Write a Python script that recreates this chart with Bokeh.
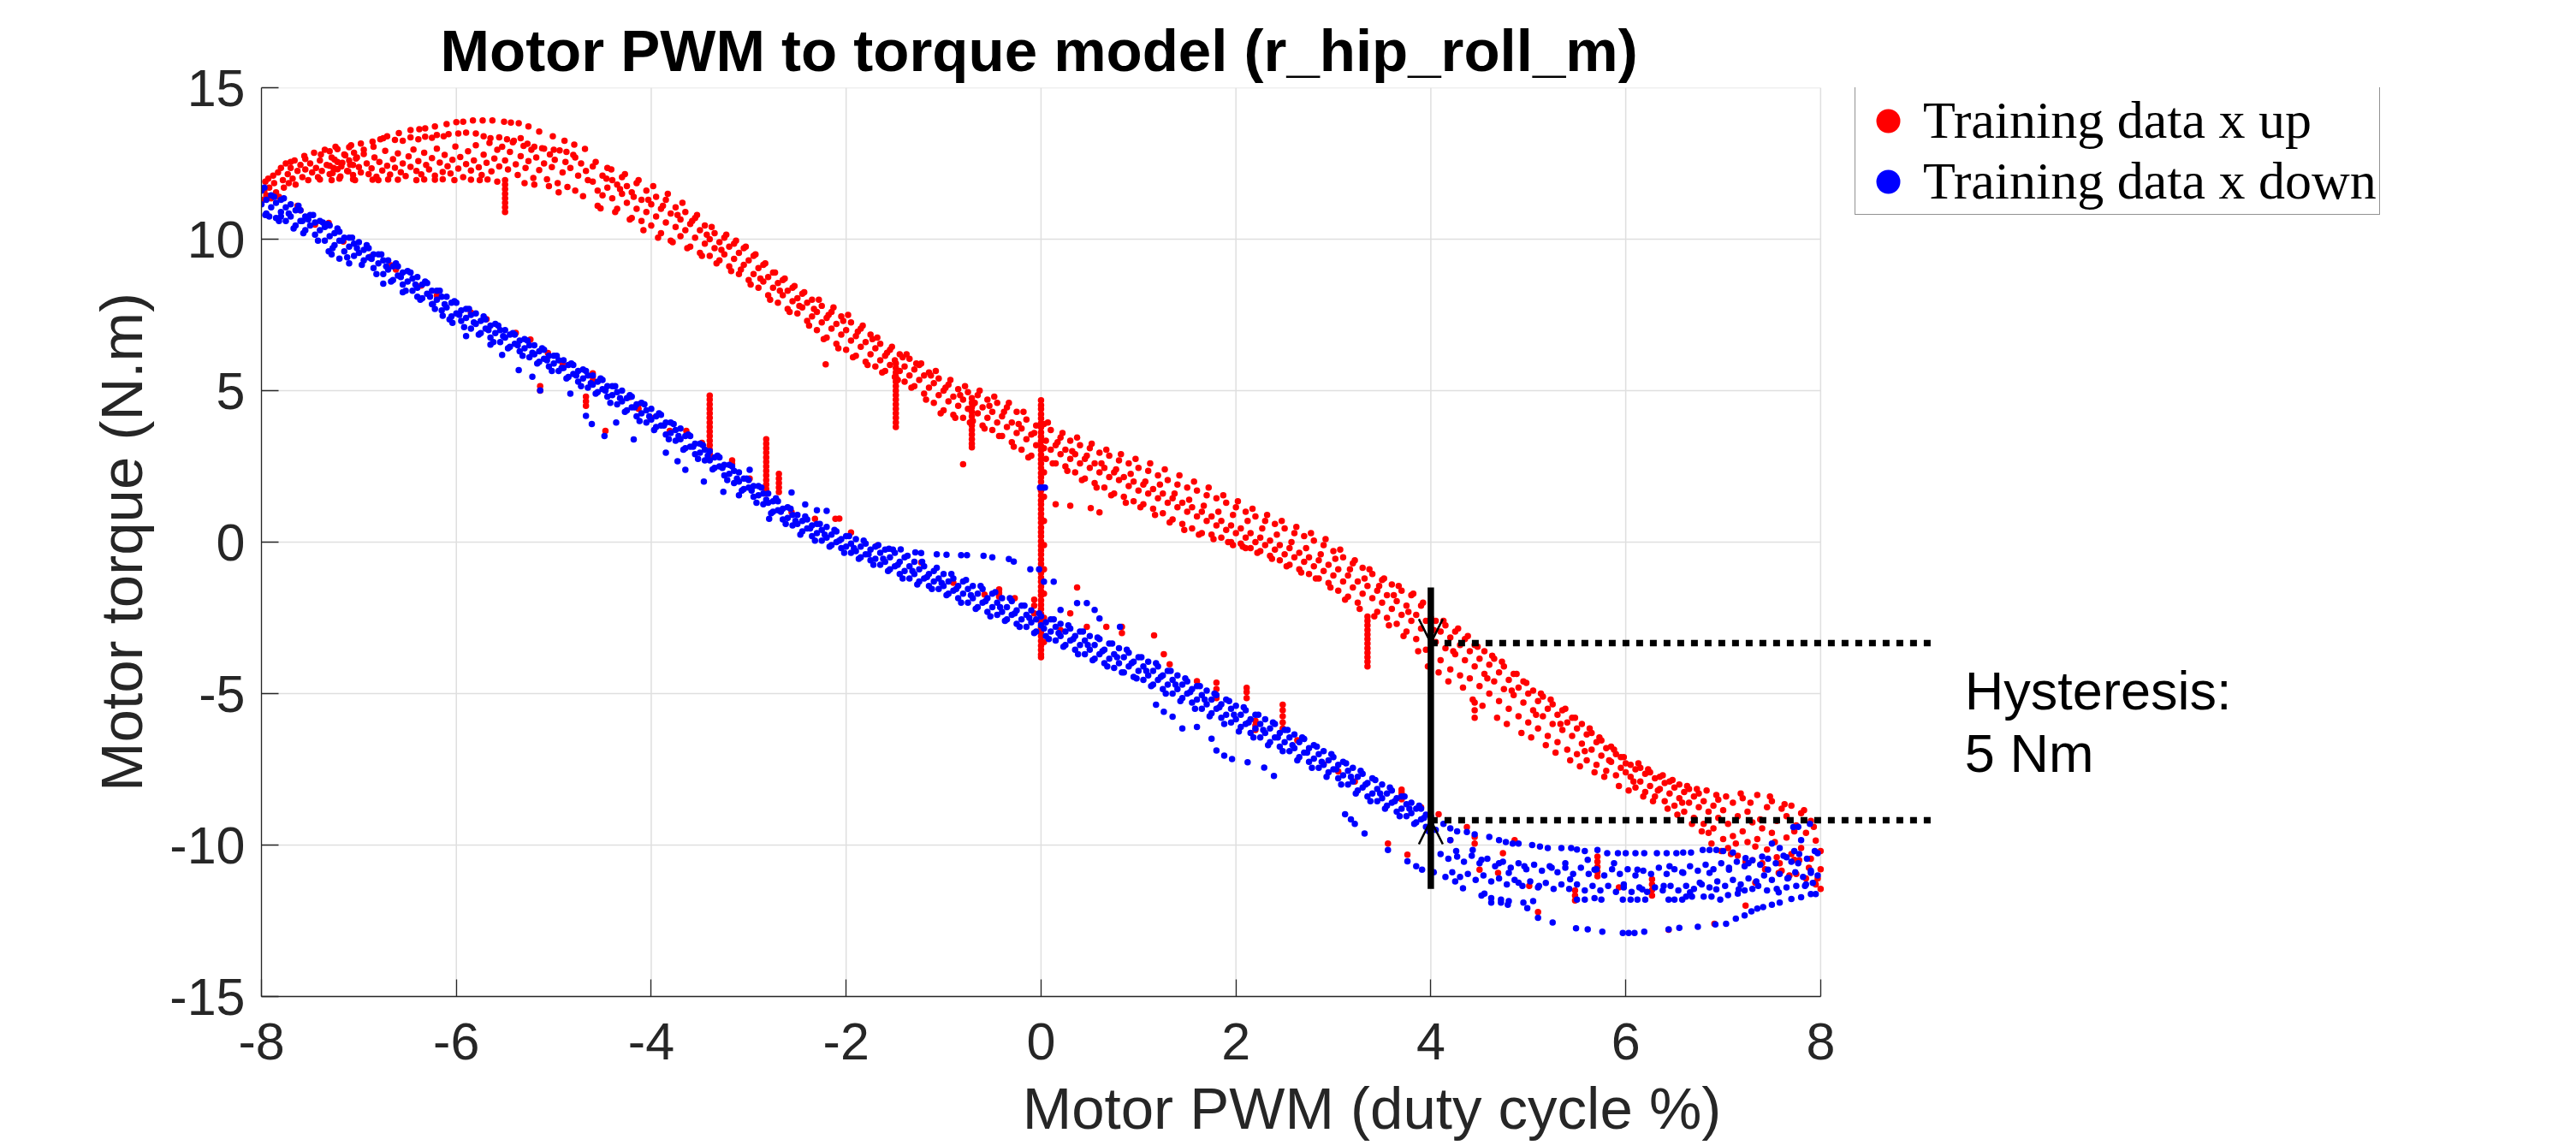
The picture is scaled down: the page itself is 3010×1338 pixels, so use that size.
from bokeh.plotting import figure
from bokeh.models import (Range1d, FixedTicker, Legend, LegendItem, Label, Arrow, OpenHead,
                          CustomJSTickFormatter)
from bokeh.embed import file_html
from bokeh.resources import INLINE

TITLE = "Motor PWM to torque model (r_hip_roll_m)"
X_LABEL = "Motor PWM (duty cycle %)"
Y_LABEL = "Motor torque (N.m)"
x_ticks = [-8, -6, -4, -2, 0, 2, 4, 6, 8]
y_ticks = [-15, -10, -5, 0, 5, 10, 15]
legend_labels = ["Training data x up", "Training data x down"]
annotation_lines = ["Hysteresis:", "5 Nm"]

# hysteresis marker values (data units)
hyst_x = 4.0
hyst_upper = -3.33
hyst_lower = -9.18
bar_top = -1.5
bar_bottom = -11.45
dotted_end = 9.16
note_x = 9.48
note_y = [-4.89, -6.95]

# ---------------- "x up" training data (red) ----------------
up_start = [(-7.98,11.3),(-7.97,11.6),(-7.96,11.9),(-7.95,11.45),(-7.93,12.0),(-7.92,11.7),(-7.9,11.35),(-7.88,12.1),
(-7.87,11.85),(-7.85,11.55),(-7.83,12.2),(-7.82,11.4),(-7.8,12.35),(-7.78,11.95),(-7.77,11.7),(-7.75,12.5),(-7.73,12.15),
(-7.72,11.85),(-7.7,12.35),(-7.68,12.0),(-7.66,12.6),(-7.65,11.8),(-7.63,12.25),(-7.6,12.45),(-7.58,12.05),(-7.56,12.75),
(-7.55,12.3),(-7.52,11.95),(-7.5,12.5),(-7.48,12.2),(-7.46,12.85),(-7.44,12.35),(-7.42,12.05),(-7.4,12.6),(-7.38,12.25),
(-7.35,12.95),(-7.33,12.45),(-7.3,12.15),(-7.28,12.7),(-7.26,12.35),(-7.24,13.05),(-7.22,12.55),(-7.2,12.0),(-7.18,12.4),
(-7.15,12.8),(-7.12,12.25),(-7.1,12.6),(-7.08,13.1),(-7.06,12.45),(-7.04,11.95),(-7.02,12.7)]

up_top_arc = [(-7.7,12.55),(-7.55,12.65),(-7.39,12.8),(-7.3,12.9),(-7.22,12.97),(-7.1,13.04),(-6.98,13.16),(-6.86,13.22),
(-6.78,13.3),(-6.71,13.4),(-6.59,13.5),(-6.47,13.6),(-6.38,13.63),(-6.32,13.66),(-6.22,13.72),(-6.1,13.8),(-6.0,13.86),
(-5.93,13.88),(-5.83,13.92),(-5.73,13.92),(-5.63,13.92),(-5.51,13.88),(-5.44,13.85),(-5.36,13.83),(-5.26,13.72),
(-5.15,13.55),(-5.01,13.4),(-4.89,13.25),(-4.79,13.12),(-4.68,12.98)]

up_arc2 = [(-7.05,12.85),(-6.95,12.95),(-6.85,13.05),(-6.75,13.33),(-6.63,13.28),(-6.55,13.25),(-6.47,13.36),(-6.39,13.3),
(-6.32,13.38),(-6.25,13.35),(-6.2,13.44),(-6.13,13.4),(-6.08,13.47),(-5.98,13.49),(-5.9,13.52),(-5.8,13.49),(-5.72,13.4),
(-5.65,13.33),(-5.56,13.36),(-5.48,13.3),(-5.41,13.25),(-5.34,13.33),(-5.27,13.15),(-5.2,13.05),(-5.1,12.99),(-5.0,12.95),
(-4.87,12.88),(-4.78,12.7)]

up_mass = [(-7.3,12.42),(-7.27,12.18),(-7.25,12.63),(-7.22,12.31),(-7.19,12.07),(-7.17,12.52),(-7.14,12.77),(-7.11,12.24),
(-7.09,12.46),(-7.06,12.12),(-7.03,12.66),(-7.0,12.38),(-6.98,12.2),(-6.95,12.81),(-6.92,12.5),(-6.9,12.15),(-6.87,12.34),
(-6.84,12.7),(-6.82,12.06),(-6.79,12.55),(-6.76,12.27),(-6.73,12.92),(-6.71,12.42),(-6.68,12.13),(-6.65,12.64),
(-6.63,12.36),(-6.6,12.83),(-6.57,12.21),(-6.55,12.5),(-6.52,12.08),(-6.49,12.73),(-6.47,12.39),(-6.44,12.96),
(-6.41,12.25),(-6.39,12.58),(-6.36,12.14),(-6.33,12.85),(-6.31,12.45),(-6.28,12.3),(-6.25,12.68),(-6.22,12.1),
(-6.2,12.99),(-6.17,12.53),(-6.14,12.22),(-6.12,12.78),(-6.09,12.41),(-6.06,12.17),(-6.04,12.62),(-6.01,13.06),
(-5.98,12.33),(-5.96,12.71),(-5.93,12.05),(-5.9,12.48),(-5.88,12.9),(-5.85,12.27),(-5.82,12.6),(-5.8,13.1),(-5.77,12.37),
(-5.74,12.12),(-5.72,12.79),(-5.69,12.52),(-5.66,13.18),(-5.64,12.24),(-5.61,12.66),(-5.58,12.95),(-5.56,12.4),
(-5.53,13.05),(-5.5,12.6),(-5.47,12.3),(-5.45,12.88),(-5.42,13.2),(-5.39,12.47),(-5.37,12.12),(-5.34,12.74),(-5.31,13.08),
(-5.29,12.35),(-5.26,12.58),(-5.23,12.95),(-5.21,12.02),(-5.18,12.7),(-5.15,12.28),(-5.12,13.0),(-5.1,12.5),(-5.07,11.98),
(-5.04,12.8),(-5.02,12.38),(-4.99,12.62),(-4.96,11.85),(-4.94,12.93),(-4.91,12.2),(-4.88,12.55),(-4.86,11.72),(-4.83,12.35),
(-4.8,12.78),(-4.78,11.6),(-4.75,12.1),(-4.72,12.5),(-4.7,11.42),(-4.67,12.25),(-4.65,11.95)]

up_lower_edge = [(-7.4,11.97),(-7.28,11.95),(-7.06,11.98),(-6.86,11.96),(-6.8,11.95),(-6.7,11.97),(-6.6,11.96),
(-6.41,11.95),(-6.33,11.97),(-6.22,11.96),(-6.14,11.98),(-6.02,11.95),(-5.85,11.96),(-5.76,11.95),(-5.68,11.97),
(-5.58,11.9),(-5.3,11.85),(-5.2,11.8),(-5.05,11.75),(-4.95,11.55)]

up_band = [(-4.6,11.9),(-4.6,12.4),(-4.55,11.6),(-4.55,11.1),(-4.5,12.1),(-4.5,11.45),(-4.45,11.7),(-4.45,12.35),
(-4.4,11.35),(-4.4,11.95),(-4.35,11.8),(-4.35,11.0),(-4.3,11.5),(-4.3,12.05),(-4.25,11.2),(-4.25,11.75),(-4.2,11.55),
(-4.2,10.7),(-4.15,11.0),(-4.15,11.85),(-4.1,11.3),(-4.1,10.6),(-4.05,10.9),(-4.05,11.6),(-4.0,11.15),(-4.0,10.45),
(-3.95,10.75),(-3.95,11.4),(-3.9,11.0),(-3.9,10.2),(-3.85,10.55),(-3.85,11.3),(-3.8,10.85),(-3.8,9.95),(-3.75,10.4),
(-3.75,11.05),(-3.7,10.65),(-3.7,10.1),(-3.65,10.3),(-3.65,10.9),(-3.6,10.5),(-3.6,9.75),(-3.55,10.05),(-3.55,10.7),
(-3.5,10.3),(-3.5,9.55),(-3.45,9.85),(-3.45,10.45),(-3.4,10.0),(-3.4,9.45),(-3.35,9.7),(-3.35,10.2),(-3.3,9.9),
(-3.3,9.3),(-3.25,9.5),(-3.25,10.05),(-3.2,9.75),(-3.2,9.1),(-3.15,9.35),(-3.15,9.85),(-3.1,9.55),(-3.1,8.85),
(-3.05,9.15),(-3.05,9.7),(-3.0,9.3),(-3.0,8.65),(-2.95,8.85),(-2.95,9.45),(-2.9,9.05),(-2.9,8.4),(-2.85,8.6),
(-2.85,9.15),(-2.8,8.75),(-2.8,8.15),(-2.75,8.4),(-2.75,8.9),(-2.7,8.55),(-2.7,7.9),(-2.65,8.15),(-2.65,8.65),
(-2.6,8.3),(-2.6,7.7),(-2.55,7.95),(-2.55,8.4),(-2.5,8.05),(-2.5,7.55),(-2.45,7.75),(-2.45,8.2),(-2.4,7.9),(-2.4,7.3),
(-2.35,7.45),(-2.35,8.0),(-2.3,7.6),(-2.3,7.0),(-2.25,7.25),(-2.25,7.8),(-2.2,7.4),(-2.2,6.75),(-2.15,7.05),(-2.15,7.6),
(-2.1,7.2),(-2.1,6.55),(-2.05,6.85),(-2.05,7.45),(-2.0,7.0),(-2.0,6.35),(-1.95,6.65),(-1.95,7.25),(-1.9,6.8),(-1.9,6.15),
(-1.85,6.45),(-1.85,7.05),(-1.8,6.6),(-1.8,5.95),(-1.75,6.2),(-1.75,6.85),(-1.7,6.4),(-1.7,5.8),(-1.65,6.0),(-1.65,6.55),
(-1.6,6.15),(-1.6,5.65),(-1.55,5.85),(-1.55,6.35),(-1.5,6.0),(-1.5,5.45),(-1.45,5.65),(-1.45,6.2),(-1.4,5.8),(-1.4,5.3),
(-1.35,5.5),(-1.35,6.05),(-1.3,5.7),(-1.3,5.15),(-1.25,5.35),(-1.25,5.85),(-1.2,5.5),(-1.2,4.9),(-1.15,5.1),(-1.15,5.6),
(-1.1,5.25),(-1.1,4.6),(-1.05,4.85),(-1.05,5.4),(-1.0,5.0),(-1.0,4.35),(-0.95,4.65),(-0.95,5.2),(-0.9,4.8),(-0.9,4.2),
(-0.85,4.5),(-0.85,5.05),(-0.8,4.7),(-0.8,4.1),(-0.75,4.4),(-0.75,4.95),(-0.7,4.55),(-0.7,4.0),(-0.65,4.25),(-0.65,4.85),
(-0.6,4.45),(-0.6,3.85),(-0.55,4.1),(-0.55,4.7),(-0.5,4.3),(-0.5,3.7),(-0.45,3.95),(-0.45,4.6),(-0.4,4.15),(-0.4,3.5),
(-0.35,3.8),(-0.35,4.45),(-0.3,3.95),(-0.3,3.3),(-0.25,3.6),(-0.25,4.3),(-0.2,3.75),(-0.2,3.05),(-0.15,3.4),(-0.15,4.05),
(-0.1,3.55),(-0.1,2.85),(-0.05,3.2),(-0.05,3.85),(0.05,3.35),(0.05,2.75),(0.1,3.05),(0.1,3.7),(0.15,3.2),(0.15,2.6),
(0.2,2.9),(0.2,3.45),(0.25,3.05),(0.25,2.5),(0.3,2.75),(0.3,3.35),(0.35,2.9),(0.35,2.3),(0.4,2.6),(0.4,3.2),(0.45,2.75),
(0.45,2.1),(0.5,2.45),(0.5,3.1),(0.55,2.6),(0.55,1.95),(0.6,2.3),(0.6,2.95),(0.65,2.45),(0.65,1.8),(0.7,2.15),(0.7,2.85),
(0.75,2.3),(0.75,1.6),(0.8,2.05),(0.8,2.7),(0.85,2.15),(0.85,1.5),(0.9,1.85),(0.9,2.6),(0.95,2.0),(0.95,1.35),(1.0,1.7),
(1.0,2.45),(1.05,1.9),(1.05,1.25),(1.1,1.6),(1.1,2.35),(1.15,1.75),(1.15,1.1),(1.2,1.45),(1.2,2.2),(1.25,1.6),(1.25,0.95),
(1.3,1.3),(1.3,2.05),(1.35,1.45),(1.35,0.75),(1.4,1.15),(1.4,1.9),(1.45,1.3),(1.45,0.6),(1.5,1.0),(1.5,1.8),(1.55,1.15),
(1.55,0.45),(1.6,0.85),(1.6,1.7),(1.65,1.0),(1.65,0.3),(1.7,0.7),(1.7,1.55),(1.75,0.85),(1.75,0.25),(1.8,0.55),(1.8,1.45),
(1.85,0.7),(1.85,0.15),(1.9,0.4),(1.9,1.3),(1.95,0.55),(1.95,0.0),(2.0,0.3),(2.0,1.15),(2.05,0.45),(2.05,-0.05),
(2.1,0.15),(2.1,1.0),(2.15,0.3),(2.15,-0.2),(2.2,0.0),(2.2,0.85),(2.25,0.15),(2.25,-0.3),(2.3,-0.1),(2.3,0.7),(2.35,0.05),
(2.35,-0.45),(2.4,-0.25),(2.4,0.6),(2.45,-0.1),(2.45,-0.6),(2.5,-0.4),(2.5,0.45),(2.55,-0.2),(2.55,-0.75),(2.6,-0.5),
(2.6,0.3),(2.65,-0.35),(2.65,-0.9),(2.7,-0.65),(2.7,0.2),(2.75,-0.5),(2.75,-1.05),(2.8,-0.8),(2.8,0.05),(2.85,-0.6),
(2.85,-1.2),(2.9,-0.95),(2.9,-0.1),(2.95,-0.75),(2.95,-1.35),(3.0,-1.1),(3.0,-0.3),(3.05,-0.9),(3.05,-1.6),(3.1,-1.3),
(3.1,-0.5),(3.15,-1.1),(3.15,-1.8),(3.2,-1.5),(3.2,-0.7),(3.25,-1.3),(3.25,-2.0),(3.3,-1.7),(3.3,-0.85),(3.35,-1.45),
(3.4,-1.85),(3.4,-1.05),(3.45,-1.6),(3.45,-2.3),(3.5,-2.0),(3.5,-1.25),(3.55,-1.75),(3.55,-2.5),(3.6,-2.2),(3.6,-1.4),
(3.65,-1.95),(3.65,-2.7),(3.7,-2.4),(3.7,-1.6),(3.75,-2.1),(3.75,-2.95),(3.8,-2.6),(3.8,-1.75),(3.85,-2.4),(3.85,-3.2),
(3.9,-2.85),(3.9,-2.1),(3.95,-2.6),(3.95,-3.55),(4.0,-3.1),(4.0,-2.5),(4.05,-3.3),(4.05,-2.6),(4.1,-2.95),(4.1,-3.9),
(4.15,-3.5),(4.15,-2.75),(4.2,-3.15),(4.2,-4.2),(4.25,-3.7),(4.25,-2.95),(4.3,-3.4),(4.3,-4.4),(4.35,-3.9),(4.35,-3.2),
(4.4,-3.6),(4.4,-4.5),(4.45,-4.1),(4.45,-3.4),(4.5,-3.85),(4.5,-4.75),(4.55,-4.35),(4.55,-3.6),(4.6,-4.05),(4.6,-5.0),
(4.65,-4.6),(4.65,-3.85),(4.7,-4.3),(4.7,-5.25),(4.75,-4.85),(4.75,-4.1),(4.8,-4.55),(4.8,-5.5),(4.85,-5.05),(4.85,-4.35),
(4.9,-4.8),(4.9,-5.75),(4.95,-5.3),(4.95,-4.6),(5.0,-5.0),(5.0,-5.95),(5.05,-5.55),(5.05,-4.9),(5.1,-5.25),(5.1,-6.15),
(5.15,-5.75),(5.15,-5.1),(5.2,-5.5),(5.2,-6.4),(5.25,-6.0),(5.25,-5.35),(5.3,-5.7),(5.3,-6.6),(5.35,-6.2),(5.35,-5.55),
(5.4,-5.95),(5.4,-6.85),(5.45,-6.4),(5.45,-5.8),(5.5,-6.15),(5.5,-7.0),(5.55,-6.65),(5.55,-6.0),(5.6,-6.35),(5.6,-7.2),
(5.65,-6.85),(5.65,-6.3),(5.7,-6.6),(5.7,-7.35),(5.75,-7.05),(5.75,-6.55),(5.8,-6.8),(5.8,-7.55),(5.85,-7.25),(5.85,-6.75),
(5.9,-7.0),(5.9,-7.7),(5.95,-7.45),(5.95,-7.1),(6.0,-7.6),(6.0,-7.3),(6.05,-7.75),(6.05,-7.35),(6.1,-7.5),(6.1,-8.1),
(6.15,-7.9),(6.15,-7.45),(6.2,-7.65),(6.2,-8.25),(6.25,-8.05),(6.25,-7.6),(6.3,-7.8),(6.3,-8.4),(6.35,-8.15),(6.35,-7.75),
(6.4,-7.95),(6.4,-8.55),(6.45,-8.3),(6.45,-7.9),(6.5,-8.1),(6.5,-8.7),(6.55,-8.45),(6.55,-8.0),(6.6,-8.25),(6.6,-8.9),
(6.65,-8.6),(6.65,-8.15),(6.7,-8.4),(6.7,-9.1),(6.75,-8.75),(6.75,-8.3),(6.8,-8.55),(6.8,-9.3),(6.85,-8.9),(6.85,-9.6),
(6.9,-8.7),(6.9,-9.45),(6.95,-9.1),(6.95,-8.5),(7.0,-8.85),(7.0,-9.8),(7.05,-9.3),(7.05,-10.1),(7.1,-8.6),(7.1,-9.7),
(7.15,-9.05),(7.15,-10.35),(7.2,-8.45),(7.2,-9.55),(7.25,-9.9),(7.25,-8.9),(7.3,-10.5),(7.3,-9.25),(7.35,-8.35),(7.35,-9.8),
(7.4,-9.45),(7.4,-10.6),(7.45,-8.75),(7.45,-10.15),(7.5,-9.6),(7.5,-8.55),(7.55,-10.4),(7.55,-9.2),(7.6,-8.8),(7.6,-10.85),
(7.65,-9.75),(7.65,-9.05),(7.7,-10.3),(7.7,-8.7),(7.75,-9.35),(7.75,-10.95),(7.8,-8.95),(7.8,-10.1),(7.85,-9.6),
(7.85,-11.1),(7.9,-10.45),(7.9,-9.2),(7.95,-9.85),(7.95,-11.3),(8.0,-10.2),(8.0,-11.45),(8.0,-10.8),
(-2.21,5.87),(-0.8,2.57),(0.15,1.25),(0.3,1.2),(0.51,1.12),(0.6,0.98),(1.97,-0.1),(2.1,-0.2)]

up_fill = [(-4.57,12.55),(-4.52,11.02),(-4.46,12.0),(-4.41,12.3),(-4.37,10.9),(-4.32,11.65),(-4.27,12.15),(-4.22,10.65),
(-4.18,11.4),(-4.13,11.95),(-4.08,10.3),(-4.03,11.3),(-3.98,11.75),(-3.93,10.05),(-3.88,11.1),(-3.83,11.5),(-3.78,9.9),
(-3.73,10.8),(-3.68,11.2),(-3.63,9.7),(-3.58,10.6),(-3.53,10.8),(-3.48,9.45),(-3.43,10.15),(-3.38,10.4),(-3.33,9.2),
(-3.28,9.65),(-3.23,10.15),(-3.18,8.95),(-3.13,9.95),(-3.08,9.0),(-3.03,9.75),(-2.98,8.5),(-2.93,9.5),(-2.88,8.7),
(-2.83,9.2),(-2.78,8.0),(-2.73,8.9),(-2.68,8.3),(-2.63,8.7),(-2.58,7.6),(-2.53,8.45),(-2.48,7.8),(-2.43,8.25),(-2.38,7.15),
(-2.33,7.7),(-2.28,8.0),(-2.23,6.7),(-2.18,7.5),(-2.13,7.75),(-2.08,6.4),(-2.03,7.3),(-1.98,7.5),(-1.93,6.1),(-1.88,6.95),
(-1.83,7.15),(-1.78,5.85),(-1.73,6.7),(-1.68,6.75),(-1.63,5.6),(-1.58,6.25),(-1.53,6.45),(-1.47,5.35),(-1.42,6.1),
(-1.38,6.2),(-1.33,5.1),(-1.28,5.9),(-1.23,5.9),(-1.18,4.7),(-1.13,5.5),(-1.08,5.65),(-1.03,4.25),(-0.98,5.1),(-0.93,5.35),
(-0.88,4.1),(-0.83,4.85),(-0.78,5.15),(-0.73,3.95),(-0.68,4.6),(-0.63,5.0),(-0.58,3.75),(-0.53,4.5),(-0.48,4.8),
(-0.43,3.5),(-0.38,4.3),(-0.33,4.6),(-0.28,3.15),(-0.23,3.9),(-0.18,4.3),(-0.13,2.8),(-0.07,3.6),(0.07,3.95),(0.12,2.6),
(0.17,3.3),(0.22,3.6),(0.27,2.35),(0.32,3.0),(0.37,3.45),(0.42,2.05),(0.47,2.85),(0.52,3.25),(0.57,1.8),(0.62,2.6),
(0.67,3.05),(0.72,1.55),(0.77,2.4),(0.82,2.9),(0.87,1.3),(0.92,2.25),(0.97,2.75),(1.02,1.15),(1.07,2.0),(1.12,2.6),
(1.17,0.9),(1.22,1.9),(1.27,2.4),(1.32,0.65),(1.37,1.6),(1.42,2.2),(1.47,0.4),(1.52,1.4),(1.57,2.0),(1.62,0.25),(1.67,1.2),
(1.72,1.8),(1.77,0.1),(1.82,1.0),(1.87,1.55),(1.92,0.0),(1.97,0.9),(2.02,1.35),(2.07,-0.15),(2.12,0.7),(2.17,1.1),
(2.22,-0.35),(2.27,0.45),(2.32,0.9),(2.37,-0.55),(2.42,0.25),(2.47,0.7),(2.52,-0.8),(2.57,0.0),(2.62,0.5),(2.67,-1.0),
(2.72,-0.2),(2.77,0.3),(2.82,-1.2),(2.87,-0.4),(2.92,0.1),(2.97,-1.5),(3.02,-0.55),(3.07,-0.25),(3.12,-1.9),(3.17,-0.9),
(3.22,-0.6),(3.27,-2.2),(3.32,-1.2),(3.37,-0.9),(3.42,-2.45),(3.47,-1.45),(3.52,-1.2),(3.57,-2.75),(3.62,-1.75),
(3.67,-1.45),(3.72,-3.1),(3.77,-2.3),(3.82,-1.7),(3.87,-3.6),(3.92,-2.0),(3.97,-4.1),(4.03,-2.9),(4.08,-4.3),(4.13,-2.6),
(4.18,-4.6),(4.23,-3.6),(4.28,-2.85),(4.33,-4.8),(4.38,-3.1),(4.43,-5.2),(4.48,-3.45),(4.53,-5.4),(4.58,-4.5),(4.63,-3.75),
(4.68,-5.8),(4.73,-3.95),(4.78,-6.0),(4.83,-4.9),(4.88,-4.35),(4.93,-6.3),(4.98,-4.65),(5.03,-6.45),(5.08,-5.7),(5.13,-5.0),
(5.18,-6.7),(5.23,-5.2),(5.28,-6.95),(5.33,-6.0),(5.38,-5.5),(5.43,-7.2),(5.48,-5.8),(5.53,-7.4),(5.58,-6.9),(5.63,-6.15),
(5.68,-7.6),(5.73,-6.45),(5.78,-7.75),(5.83,-7.2),(5.88,-6.85),(5.93,-8.05),(5.98,-7.1),(6.03,-8.2),(6.08,-7.9),(6.13,-7.3),
(6.18,-8.4),(6.23,-7.5),(6.28,-8.55),(6.33,-8.2),(6.38,-7.7),(6.43,-8.8),(6.48,-7.85),(6.53,-9.0),(6.58,-8.6),(6.63,-8.05),
(6.68,-9.3),(6.73,-8.15),(6.78,-9.55),(6.83,-8.2),(6.88,-9.95),(6.93,-8.35),(6.98,-10.2),(7.03,-8.4),(7.08,-10.3),
(7.13,-9.95),(7.18,-8.3),(7.23,-10.55),(7.28,-8.6),(7.33,-10.05),(7.38,-9.15),(7.43,-10.8),(7.48,-8.4),(7.53,-9.9),
(7.58,-10.6),(7.63,-8.65),(7.68,-11.0),(7.73,-9.55),(7.78,-10.5),(7.83,-8.85),(7.88,-10.75),(7.93,-9.4),(7.97,-11.1)]

# vertical streaks of the "x up" data: (x, list of y)
up_spikes = [
    (-5.5, [11.95, 11.8, 11.65, 11.5, 11.35, 11.2, 11.05, 10.9]),
    (-3.4, [4.84, 4.7, 4.55, 4.4, 4.25, 4.1, 3.95, 3.8, 3.65, 3.5, 3.35, 3.2, 3.05, 2.9, 2.75]),
    (-2.82, [3.4, 3.25, 3.1, 2.95, 2.8, 2.65, 2.5, 2.35, 2.2, 2.05, 1.9, 1.75, 1.6]),
    (-1.49, [5.9, 5.75, 5.6, 5.45, 5.3, 5.15, 5.0, 4.85, 4.7, 4.55, 4.4, 4.25, 4.1, 3.95, 3.8]),
    (-0.71, [4.75, 4.6, 4.45, 4.3, 4.15, 4.0, 3.85, 3.7, 3.55, 3.4, 3.25, 3.13]),
    (0.0, [4.68, 4.52, 4.39, 4.22, 4.08, 3.93, 3.79, 3.62, 3.48, 3.33, 3.17, 3.04, 2.88, 2.73, 2.59, 2.44, 2.28,
           2.14, 1.99, 1.83, 1.7, 1.54, 1.38, 1.24, 1.09, 0.93, 0.79, 0.64, 0.48, 0.33, 0.19, 0.03, -0.12, -0.27,
           -0.41, -0.57, -0.72, -0.86, -1.02, -1.17, -1.31, -1.47, -1.62, -1.76, -1.92, -2.07, -2.21, -2.37,
           -2.52, -2.66, -2.82, -2.97, -3.11, -3.26, -3.42, -3.56, -3.71, -3.8]),
    (0.03, [3.9, 3.1, 2.3, 1.5, 0.7, -0.1, -0.9, -1.7, -2.5, -3.3]),
    (3.35, [-2.46, -2.6, -2.75, -2.9, -3.05, -3.2, -3.35, -3.5, -3.65, -3.8, -3.95, -4.1]),
    (4.45, [-5.3, -5.55, -5.8]),
]

up_in_down_band = [(-7.63,11.1),(-7.6,10.95),(-7.45,10.48),(-7.31,10.54),(-7.16,9.92),(-6.88,9.42),(-6.67,9.14),
(-6.62,9.0),(-6.36,8.47),(-6.2,8.14),(-5.85,7.58),(-5.69,7.36),(-5.39,6.91),(-5.24,6.69),(-5.14,5.15),(-5.14,5.0),
(-5.06,6.24),(-4.91,5.9),(-4.6,5.57),(-4.6,5.45),(-4.6,5.32),(-4.67,4.8),(-4.67,4.65),(-4.67,4.5),(-4.47,3.67),
(-4.22,4.79),(-4.13,4.55),(-4.13,4.4),(-4.01,4.12),(-3.81,3.67),(-3.64,3.67),(-3.48,3.28),(-3.17,2.7),(-3.17,2.58),
(-2.99,2.1),(-2.69,2.25),(-2.69,2.1),(-2.69,1.95),(-2.69,1.8),(-2.69,1.65),(-2.56,0.99),(-2.32,0.77),(-2.11,0.77),
(-1.95,0.32),(-2.07,0.78),(-1.68,-0.11),(-1.23,-0.67),(-0.9,-1.34),(-0.58,-1.73),(-0.43,-1.56),(-0.43,-1.68),
(-0.43,-1.8),(-0.27,-1.85),(-0.07,-1.9),(-0.07,-2.1),(-0.07,-2.35),(0.2,-2.9),(0.3,-2.35),(0.37,-1.5),(0.47,-2.8),
(0.67,-2.8),(0.83,-2.8),(0.83,-3.0),(1.16,-3.08),(1.26,-3.7),(1.32,-4.03),(1.6,-4.59),(1.8,-4.64),(1.8,-4.85),
(1.8,-5.15),(2.11,-4.81),(2.11,-4.95),(2.11,-5.15),(2.2,-5.9),(2.2,-6.05),(2.2,-6.2),(2.48,-5.37),(2.48,-5.55),
(2.48,-5.75),(2.48,-5.95),(2.48,-6.15),(2.63,-6.54),(2.9,-7.33),(3.05,-7.57),(3.22,-7.9),(3.7,-8.17),(3.7,-8.27),
(3.7,-8.38),(3.7,-8.49),(3.56,-9.95),(3.76,-10.32),(3.9,-8.76),(4.08,-8.98),(4.2,-9.84),(4.37,-9.41),(4.45,-9.73),
(4.45,-9.95),(4.5,-10.81),(4.69,-10.92),(4.74,-10.27),(4.86,-9.84),(5.01,-11.35),(5.1,-12.21),(5.48,-11.5),
(5.48,-11.67),(5.48,-11.83),(5.71,-10.38),(5.71,-10.55),(5.71,-10.72),(5.71,-10.88),(5.71,-11.03),(5.93,-11.4),
(6.27,-11.13),(6.27,-11.3),(6.27,-11.48),(6.27,-11.67),(6.44,-12.8),(6.91,-12.6),(7.23,-12.0),(7.33,-11.24),
(7.57,-10.92),(7.73,-10.49),(7.94,-11.24)]

# ---------------- "x down" training data (blue) ----------------
down_band = [(-8.0,11.15),(-8.0,11.6),(-7.95,11.3),(-7.95,10.85),(-7.9,11.05),(-7.9,11.45),(-7.85,11.2),(-7.85,10.7),
(-7.8,10.9),(-7.8,11.3),(-7.75,11.05),(-7.75,10.6),(-7.7,10.75),(-7.7,11.15),(-7.65,10.95),(-7.65,10.45),(-7.6,10.6),
(-7.6,10.95),(-7.55,10.75),(-7.55,10.3),(-7.5,10.45),(-7.5,10.8),(-7.45,10.55),(-7.45,10.15),(-7.4,10.3),(-7.4,10.6),
(-7.35,10.4),(-7.35,9.95),(-7.3,10.1),(-7.3,10.45),(-7.25,10.2),(-7.25,9.8),(-7.2,9.95),(-7.2,10.25),(-7.15,10.05),
(-7.15,9.6),(-7.1,9.75),(-7.1,10.05),(-7.05,9.85),(-7.05,9.45),(-7.0,9.55),(-7.0,9.9),(-6.95,9.65),(-6.95,9.3),
(-6.9,9.4),(-6.9,9.7),(-6.85,9.5),(-6.85,9.05),(-6.8,9.2),(-6.8,9.5),(-6.75,9.3),(-6.75,8.85),(-6.7,9.0),(-6.7,9.3),
(-6.65,9.1),(-6.65,8.65),(-6.6,8.8),(-6.6,9.1),(-6.55,8.9),(-6.55,8.5),(-6.5,8.6),(-6.5,8.95),(-6.45,8.7),(-6.45,8.3),
(-6.4,8.4),(-6.4,8.75),(-6.35,8.5),(-6.35,8.05),(-6.3,8.2),(-6.3,8.55),(-6.25,8.3),(-6.25,7.85),(-6.2,8.0),(-6.2,8.3),
(-6.15,8.1),(-6.15,7.65),(-6.1,7.75),(-6.1,8.1),(-6.05,7.9),(-6.05,7.45),(-6.0,7.55),(-6.0,7.9),(-5.95,7.65),(-5.95,7.3),
(-5.9,7.4),(-5.9,7.7),(-5.85,7.5),(-5.85,7.05),(-5.8,7.2),(-5.8,7.55),(-5.75,7.3),(-5.75,6.9),(-5.7,7.05),(-5.7,7.35),
(-5.65,7.15),(-5.65,6.75),(-5.6,6.9),(-5.6,7.2),(-5.55,7.0),(-5.55,6.6),(-5.5,6.75),(-5.5,7.0),(-5.45,6.85),(-5.45,6.45),
(-5.4,6.55),(-5.4,6.85),(-5.35,6.65),(-5.35,6.3),(-5.3,6.4),(-5.3,6.7),(-5.25,6.5),(-5.25,6.1),(-5.2,6.2),(-5.2,6.5),
(-5.15,6.3),(-5.15,5.95),(-5.1,6.05),(-5.1,6.35),(-5.05,6.15),(-5.05,5.8),(-5.0,5.9),(-5.0,6.15),(-4.95,6.0),(-4.95,5.65),
(-4.9,5.75),(-4.9,6.0),(-4.85,5.85),(-4.85,5.45),(-4.8,5.55),(-4.8,5.85),(-4.75,5.65),(-4.75,5.3),(-4.7,5.4),(-4.7,5.7),
(-4.65,5.5),(-4.65,5.1),(-4.6,5.2),(-4.6,5.5),(-4.55,5.3),(-4.55,4.95),(-4.5,5.05),(-4.5,5.35),(-4.45,5.15),(-4.45,4.8),
(-4.4,4.85),(-4.4,5.15),(-4.35,4.95),(-4.35,4.55),(-4.3,4.65),(-4.3,5.0),(-4.25,4.75),(-4.25,4.35),(-4.2,4.45),(-4.2,4.8),
(-4.15,4.55),(-4.15,4.15),(-4.1,4.25),(-4.1,4.6),(-4.05,4.35),(-4.05,3.95),(-4.0,4.05),(-4.0,4.4),(-3.95,4.15),(-3.95,3.8),
(-3.9,3.85),(-3.9,4.2),(-3.85,3.95),(-3.85,3.55),(-3.8,3.6),(-3.8,3.95),(-3.75,3.7),(-3.75,3.35),(-3.7,3.4),(-3.7,3.75),
(-3.65,3.5),(-3.65,3.1),(-3.6,3.15),(-3.6,3.5),(-3.55,3.25),(-3.55,2.9),(-3.5,2.95),(-3.5,3.25),(-3.45,3.05),(-3.45,2.7),
(-3.4,2.7),(-3.4,3.0),(-3.35,2.8),(-3.35,2.45),(-3.3,2.5),(-3.3,2.8),(-3.25,2.55),(-3.25,2.2),(-3.2,2.25),(-3.2,2.55),
(-3.15,2.35),(-3.15,1.95),(-3.1,2.0),(-3.1,2.3),(-3.05,2.1),(-3.05,1.75),(-3.0,1.8),(-3.0,2.05),(-2.95,1.85),(-2.95,1.5),
(-2.9,1.55),(-2.9,1.85),(-2.85,1.6),(-2.85,1.25),(-2.8,1.3),(-2.8,1.6),(-2.75,1.35),(-2.75,1.0),(-2.7,1.05),(-2.7,1.35),
(-2.65,1.1),(-2.65,0.75),(-2.6,0.8),(-2.6,1.15),(-2.55,0.9),(-2.55,0.55),(-2.5,0.6),(-2.5,0.9),(-2.45,0.7),(-2.45,0.35),
(-2.4,0.45),(-2.4,0.75),(-2.35,0.55),(-2.35,0.2),(-2.3,0.3),(-2.3,0.6),(-2.25,0.4),(-2.25,0.05),(-2.2,0.15),(-2.2,0.5),
(-2.15,0.25),(-2.15,-0.1),(-2.1,0.0),(-2.1,0.35),(-2.05,0.1),(-2.05,-0.2),(-2.0,-0.15),(-2.0,0.2),(-1.95,-0.05),
(-1.95,-0.35),(-1.9,-0.3),(-1.9,0.1),(-1.85,-0.15),(-1.85,-0.5),(-1.8,-0.4),(-1.8,-0.05),(-1.75,-0.25),(-1.75,-0.6),
(-1.7,-0.55),(-1.7,-0.15),(-1.65,-0.35),(-1.65,-0.75),(-1.6,-0.65),(-1.6,-0.25),(-1.55,-0.5),(-1.55,-0.9),(-1.5,-0.8),
(-1.5,-0.35),(-1.45,-0.65),(-1.45,-1.05),(-1.4,-0.95),(-1.4,-0.5),(-1.35,-0.8),(-1.35,-1.2),(-1.3,-1.05),(-1.3,-0.65),
(-1.25,-0.9),(-1.25,-1.3),(-1.2,-1.2),(-1.2,-0.8),(-1.15,-1.05),(-1.15,-1.45),(-1.1,-1.3),(-1.1,-0.95),(-1.05,-1.2),
(-1.05,-1.55),(-1.0,-1.45),(-1.0,-1.05),(-0.95,-1.3),(-0.95,-1.7),(-0.9,-1.6),(-0.9,-1.2),(-0.85,-1.45),(-0.85,-1.85),
(-0.8,-1.7),(-0.8,-1.3),(-0.75,-1.55),(-0.75,-2.0),(-0.7,-1.85),(-0.7,-1.45),(-0.65,-1.7),(-0.65,-2.15),(-0.6,-2.0),
(-0.6,-1.55),(-0.55,-1.85),(-0.55,-2.3),(-0.5,-2.15),(-0.5,-1.7),(-0.45,-2.0),(-0.45,-2.4),(-0.4,-2.3),(-0.4,-1.85),
(-0.35,-2.15),(-0.35,-2.55),(-0.3,-2.4),(-0.3,-1.95),(-0.25,-2.25),(-0.25,-2.7),(-0.2,-2.55),(-0.2,-2.1),(-0.15,-2.4),
(-0.15,-2.8),(-0.1,-2.65),(-0.1,-2.25),(-0.05,-2.55),(-0.05,-2.95),(0.0,-2.75),(0.0,-2.45),(0.05,-2.65),(0.05,-3.1),
(0.1,-2.95),(0.1,-2.55),(0.15,-2.8),(0.15,-3.25),(0.2,-3.1),(0.2,-2.7),(0.25,-2.95),(0.25,-3.4),(0.3,-3.25),(0.3,-2.85),
(0.35,-3.1),(0.35,-3.55),(0.4,-3.4),(0.4,-2.95),(0.45,-3.25),(0.45,-3.7),(0.5,-3.55),(0.5,-3.1),(0.55,-3.4),(0.55,-3.85),
(0.6,-3.7),(0.6,-3.2),(0.65,-3.55),(0.65,-4.0),(0.7,-3.85),(0.7,-3.35),(0.75,-3.7),(0.75,-4.15),(0.8,-4.0),(0.8,-3.5),
(0.85,-3.8),(0.85,-4.3),(0.9,-4.1),(0.9,-3.65),(0.95,-3.95),(0.95,-4.45),(1.0,-4.25),(1.0,-3.8),(1.05,-4.1),(1.05,-4.55),
(1.1,-4.4),(1.1,-3.95),(1.15,-4.25),(1.15,-4.7),(1.2,-4.55),(1.2,-4.1),(1.25,-4.4),(1.25,-4.85),(1.3,-4.7),(1.3,-4.25),
(1.35,-4.55),(1.35,-5.0),(1.4,-4.85),(1.4,-4.4),(1.45,-4.7),(1.45,-5.15),(1.5,-5.0),(1.5,-4.6),(1.55,-4.85),(1.55,-5.3),
(1.6,-5.2),(1.6,-4.75),(1.65,-5.05),(1.65,-5.5),(1.7,-5.35),(1.7,-4.9),(1.75,-5.2),(1.75,-5.65),(1.8,-5.5),(1.8,-5.05),
(1.85,-5.35),(1.85,-5.8),(1.9,-5.7),(1.9,-5.2),(1.95,-5.5),(1.95,-5.95),(2.0,-5.85),(2.0,-5.4),(2.05,-5.7),(2.05,-6.1),
(2.1,-6.0),(2.1,-5.55),(2.15,-5.85),(2.15,-6.3),(2.2,-6.15),(2.2,-5.7),(2.25,-6.0),(2.25,-6.45),(2.3,-6.3),(2.3,-5.85),
(2.35,-6.15),(2.35,-6.6),(2.4,-6.45),(2.4,-6.0),(2.45,-6.3),(2.45,-6.75),(2.5,-6.6),(2.5,-6.2),(2.55,-6.45),(2.55,-6.9),
(2.6,-6.8),(2.6,-6.35),(2.65,-6.6),(2.65,-7.1),(2.7,-6.95),(2.7,-6.5),(2.75,-6.8),(2.75,-7.25),(2.8,-7.15),(2.8,-6.7),
(2.85,-7.0),(2.85,-7.45),(2.9,-7.35),(2.9,-6.9),(2.95,-7.2),(2.95,-7.6),(3.0,-7.5),(3.0,-7.1),(3.05,-7.35),(3.05,-7.8),
(3.1,-7.7),(3.1,-7.25),(3.15,-7.55),(3.15,-8.0),(3.2,-7.9),(3.2,-7.45),(3.25,-7.75),(3.25,-8.2),(3.3,-8.1),(3.3,-7.65),
(3.35,-7.95),(3.35,-8.4),(3.4,-8.3),(3.4,-7.8),(3.45,-8.15),(3.45,-8.55),(3.5,-8.45),(3.5,-8.0),(3.55,-8.3),(3.55,-8.7),
(3.6,-8.6),(3.6,-8.2),(3.65,-8.45),(3.65,-8.9),(3.7,-8.8),(3.7,-8.4),(3.75,-8.65),(3.75,-9.05),(3.8,-8.95),(3.8,-8.6),
(3.85,-8.8),(3.85,-9.25),(3.9,-9.15),(3.9,-8.8),(3.95,-9.0),(3.95,-9.4),(4.0,-9.3),(4.0,-9.05)]

down_fill = [(-7.97,11.7),(-7.92,10.75),(-7.87,11.4),(-7.82,10.6),(-7.77,11.35),(-7.72,10.85),(-7.67,10.35),(-7.62,11.1),
(-7.57,10.2),(-7.52,10.65),(-7.47,10.8),(-7.42,9.95),(-7.37,10.55),(-7.32,10.5),(-7.27,9.7),(-7.22,10.35),(-7.17,9.95),
(-7.12,9.4),(-7.07,10.05),(-7.02,9.7),(-6.97,9.15),(-6.92,9.8),(-6.87,9.35),(-6.82,8.85),(-6.77,9.5),(-6.72,9.1),
(-6.67,8.6),(-6.62,9.2),(-6.57,8.75),(-6.52,8.3),(-6.47,8.9),(-6.42,8.5),(-6.37,8.0),(-6.32,8.6),(-6.27,8.1),(-6.22,7.7),
(-6.17,8.3),(-6.12,7.85),(-6.07,7.35),(-6.02,7.95),(-5.97,7.5),(-5.92,7.1),(-5.87,7.7),(-5.82,7.25),(-5.77,6.85),
(-5.72,7.45),(-5.67,7.0),(-5.62,6.6),(-5.57,7.15),(-5.52,6.8),(-5.47,6.4),(-5.42,6.9),(-5.37,6.5),(-5.32,6.15),(-5.27,6.65),
(-5.22,6.25),(-5.17,5.9),(-5.12,6.4),(-5.07,6.0),(-5.02,5.65),(-4.97,6.15),(-4.92,5.75),(-4.87,5.4),(-4.82,5.9),(-4.77,5.5),
(-4.72,5.15),(-4.67,5.65),(-4.62,5.25),(-4.57,4.9),(-4.52,5.4),(-4.47,5.0),(-4.42,4.6),(-4.37,5.15),(-4.32,4.75),(-4.27,4.3),
(-4.22,4.85),(-4.17,4.45),(-4.12,4.0),(-4.07,4.55),(-4.02,4.15),(-3.97,3.7),(-3.92,4.25),(-3.87,3.85),(-3.82,3.4),
(-3.77,3.9),(-3.72,3.5),(-3.67,3.05),(-3.62,3.55),(-3.57,3.15),(-3.52,2.75),(-3.47,3.2),(-3.42,2.85),(-3.37,2.4),
(-3.32,2.85),(-3.27,2.45),(-3.22,2.05),(-3.17,2.5),(-3.12,2.1),(-3.07,1.7),(-3.02,2.1),(-2.97,1.7),(-2.92,1.3),(-2.87,1.8),
(-2.82,1.4),(-2.77,0.95),(-2.72,1.45),(-2.67,1.0),(-2.62,0.6),(-2.57,1.1),(-2.52,0.7),(-2.47,0.25),(-2.42,0.85),
(-2.37,0.45),(-2.32,0.05),(-2.27,0.6),(-2.22,0.25),(-2.17,-0.15),(-2.12,0.4),(-2.07,0.05),(-2.02,-0.35),(-1.97,0.2),
(-1.92,-0.2),(-1.87,-0.55),(-1.82,0.05),(-1.77,-0.4),(-1.72,-0.75),(-1.67,-0.1),(-1.62,-0.55),(-1.57,-0.95),(-1.52,-0.25),
(-1.47,-0.75),(-1.42,-1.2),(-1.37,-0.45),(-1.32,-0.95),(-1.27,-1.4),(-1.22,-0.65),(-1.17,-1.15),(-1.12,-1.55),(-1.07,-0.85),
(-1.02,-1.35),(-0.97,-1.75),(-0.92,-1.05),(-0.87,-1.55),(-0.82,-2.0),(-0.77,-1.25),(-0.72,-1.75),(-0.67,-2.2),(-0.62,-1.45),
(-0.57,-1.95),(-0.52,-2.45),(-0.47,-1.65),(-0.42,-2.15),(-0.37,-2.6),(-0.32,-1.85),(-0.27,-2.35),(-0.22,-2.8),(-0.17,-2.1),
(-0.12,-2.5),(-0.07,-3.0),(-0.02,-2.35),(0.03,-2.85),(0.08,-3.2),(0.13,-2.55),(0.18,-3.0),(0.23,-3.45),(0.28,-2.75),
(0.33,-3.2),(0.38,-3.7),(0.43,-2.95),(0.48,-3.4),(0.53,-3.9),(0.58,-3.15),(0.63,-3.6),(0.68,-4.1),(0.73,-3.35),(0.78,-3.8),
(0.83,-4.3),(0.88,-3.55),(0.93,-4.0),(0.98,-4.5),(1.03,-3.8),(1.08,-4.25),(1.13,-4.75),(1.18,-4.0),(1.23,-4.45),(1.28,-5.0),
(1.33,-4.25),(1.38,-4.7),(1.43,-5.25),(1.48,-4.5),(1.53,-4.95),(1.58,-5.5),(1.63,-4.75),(1.68,-5.2),(1.73,-5.75),(1.78,-5.0),
(1.83,-5.45),(1.88,-6.0),(1.93,-5.25),(1.98,-5.7),(2.03,-6.25),(2.08,-5.45),(2.13,-5.95),(2.18,-6.45),(2.23,-5.7),
(2.28,-6.2),(2.33,-6.7),(2.38,-5.95),(2.43,-6.45),(2.48,-6.9),(2.53,-6.2),(2.58,-6.7),(2.63,-7.2),(2.68,-6.45),(2.73,-6.95),
(2.78,-7.45),(2.83,-6.75),(2.88,-7.25),(2.93,-7.75),(2.98,-7.0),(3.03,-7.5),(3.08,-8.0),(3.13,-7.3),(3.18,-7.75),(3.23,-8.3),
(3.28,-7.55),(3.33,-8.0),(3.38,-8.55),(3.43,-7.85),(3.48,-8.3),(3.53,-8.8),(3.58,-8.1),(3.63,-8.55),(3.68,-9.05),(3.73,-8.4),
(3.78,-8.8),(3.83,-9.3),(3.88,-8.7),(3.93,-9.1),(3.98,-9.55)]

down_outliers1 = [(-7.96,10.8),(-7.8,10.75),(-7.58,10.6),(-7.31,9.6),(-7.28,9.5),(-7.2,9.36),(-7.1,9.2),(-6.75,8.53),
(-6.55,8.25),(-6.4,8.1),(-6.24,7.86),(-6.14,7.47),(-6.04,7.24),(-5.9,6.8),(-5.65,6.52),(-5.53,6.18),(-5.36,5.68),
(-5.22,5.46),(-5.14,5.01),(-4.83,4.9),(-4.67,4.17),(-4.61,3.9),(-4.48,3.5),(-4.36,3.95),(-4.18,3.39),(-3.85,2.95),
(-3.73,2.67),(-3.65,2.39),(-3.46,2.0),(-3.26,1.66),(-3.1,1.55),(-2.99,2.39),(-2.79,0.77),(-2.56,1.64),(-2.42,1.24),
(-2.3,1.05),(-2.2,1.03)]

down_outliers2 = [(0.37,-2.01),(0.47,-2.01),(0.55,-2.24),(0.6,-2.52),(0.2,-2.24),(0.81,-2.8),(1.18,-5.37),(1.26,-5.6),
(1.35,-5.76),(1.45,-6.15),(1.6,-6.1),(1.75,-6.49),(1.8,-6.88),(1.88,-7.05),(1.96,-7.16),(2.12,-7.27),(2.29,-7.44),
(2.39,-7.72),(3.12,-8.98),(3.18,-9.15),(3.22,-9.3),(3.32,-9.62),(3.56,-10.16),(3.76,-10.54),(3.85,-10.7),(3.91,-10.81)]

down_upper_strand = [(-1.56,-0.22),(-1.44,-0.24),(-1.29,-0.34),(-1.23,-0.36),(-1.07,-0.4),(-0.97,-0.42),(-0.82,-0.43),
(-0.76,-0.43),(-0.59,-0.45),(-0.5,-0.5),(-0.33,-0.56),(-0.28,-0.64),(-0.11,-0.9),(-0.02,-0.9),(0.03,-1.31),(0.13,-1.31),
(-0.01,1.8),(0.02,1.8),(0.04,1.8)]

down_right_upper = [(4.05,-9.5),(4.13,-9.3),(4.2,-9.45),(4.27,-9.55),(4.37,-9.57),(4.45,-9.65),(4.6,-9.73),(4.7,-9.84),
(4.77,-9.9),(4.84,-9.95),(4.9,-9.95),(5.04,-10.0),(5.12,-10.05),(5.2,-10.1),(5.34,-10.1),(5.44,-10.1),(5.5,-10.15),
(5.58,-10.2),(5.71,-10.16),(5.81,-10.27),(5.92,-10.27),(6.0,-10.27),(6.1,-10.27),(6.19,-10.27),(6.32,-10.27),
(6.42,-10.27),(6.52,-10.27),(6.59,-10.25),(6.67,-10.25),(6.79,-10.16),(6.86,-10.16),(6.93,-10.16),(7.0,-10.2),
(7.1,-10.25),(7.23,-10.43),(7.4,-10.38),(7.5,-9.95),(7.58,-10.1),(7.65,-10.4),(7.73,-10.2),(7.77,-9.4),(7.89,-9.3)]

down_right_mid1 = [(4.1,-10.3),(4.18,-10.45),(4.26,-10.2),(4.34,-10.55),(4.42,-10.35),(4.5,-10.6),(4.58,-10.45),
(4.66,-10.7),(4.74,-10.55),(4.82,-10.75),(4.9,-10.6),(4.98,-10.8),(5.06,-10.65),(5.14,-10.85),(5.22,-10.7),(5.3,-10.9),
(5.38,-10.75),(5.46,-10.95),(5.54,-10.75),(5.62,-10.95),(5.7,-10.8),(5.78,-11.0),(5.86,-10.8),(5.94,-10.95),(6.02,-10.8),
(6.1,-11.0),(6.18,-10.85),(6.26,-10.95),(6.34,-10.75),(6.42,-10.95),(6.5,-10.8),(6.58,-10.9),(6.66,-10.7),(6.74,-10.85),
(6.82,-10.65),(6.9,-10.8),(6.98,-10.6),(7.06,-10.75),(7.14,-10.55),(7.22,-10.7),(7.3,-10.5),(7.38,-10.65),(7.46,-10.45),
(7.54,-10.6),(7.62,-10.35),(7.7,-10.55),(7.78,-10.3),(7.86,-10.45),(7.94,-10.2)]

down_right_mid2 = [(4.22,-10.9),(4.3,-11.05),(4.38,-10.95),(4.46,-11.15),(4.54,-11.0),(4.62,-11.2),(4.7,-11.1),
(4.78,-11.3),(4.86,-11.15),(4.94,-11.35),(5.02,-11.2),(5.1,-11.4),(5.18,-11.25),(5.26,-11.45),(5.34,-11.3),(5.42,-11.45),
(5.5,-11.3),(5.58,-11.5),(5.66,-11.35),(5.74,-11.5),(5.82,-11.35),(5.9,-11.55),(5.98,-11.4),(6.06,-11.55),(6.14,-11.4),
(6.22,-11.55),(6.3,-11.4),(6.38,-11.5),(6.46,-11.35),(6.54,-11.5),(6.62,-11.35),(6.7,-11.45),(6.78,-11.3),(6.86,-11.4),
(6.94,-11.2),(7.02,-11.35),(7.1,-11.15),(7.18,-11.3),(7.26,-11.1),(7.34,-11.2),(7.42,-11.0),(7.5,-11.15),(7.58,-10.95),
(7.66,-11.1),(7.74,-10.9),(7.82,-11.05),(7.9,-10.85),(7.97,-11.0)]

down_right_low1 = [(4.55,-11.6),(4.62,-11.75),(4.72,-11.8),(4.8,-11.85),(4.95,-11.9),(5.05,-11.85),(5.5,-11.8),
(5.58,-11.8),(5.68,-11.75),(5.75,-11.8),(5.97,-11.8),(6.05,-11.8),(6.12,-11.8),(6.2,-11.8),(6.44,-11.8),(6.5,-11.8),
(6.58,-11.8),(6.62,-11.7),(6.68,-11.7),(6.8,-11.7),(6.88,-11.7),(6.97,-11.8),(7.05,-11.65),(7.15,-11.6),(7.22,-11.5),
(7.3,-11.45),(7.45,-11.5),(7.55,-11.45),(7.65,-11.4),(7.75,-11.35),(7.85,-11.3),(7.92,-11.25)]

down_right_low2 = [(4.03,-10.9),(4.15,-11.05),(4.25,-11.2),(4.33,-11.43),(4.52,-11.67),(4.62,-11.9),(4.72,-11.9),
(4.79,-11.97),(4.99,-12.08),(5.1,-12.4),(5.25,-12.56),(5.49,-12.75),(5.61,-12.78),(5.76,-12.86),(5.97,-12.9),
(6.03,-12.9),(6.09,-12.9),(6.19,-12.86),(6.44,-12.78),(6.55,-12.73),(6.74,-12.7),(6.92,-12.62),(7.03,-12.6),
(7.13,-12.43),(7.22,-12.32),(7.29,-12.19),(7.35,-12.1),(7.41,-12.05),(7.5,-11.97),(7.58,-11.9),(7.7,-11.78),
(7.8,-11.72),(7.9,-11.62)]

down_right_scatter = [(4.2,-9.84),(4.27,-10.38),(4.43,-10.16),(4.52,-10.49),(4.7,-10.6),(4.8,-10.92),(4.9,-11.24),
(4.96,-10.7),(5.11,-11.35),(5.24,-10.75),(5.38,-10.6),(5.43,-11.13),(5.61,-10.49),(5.68,-10.81),(5.88,-10.6),
(5.98,-11.3),(6.12,-10.81),(6.17,-11.46),(6.39,-11.35),(6.45,-10.7),(6.59,-10.92),(6.66,-11.56),(6.76,-11.24),
(6.86,-10.92),(6.93,-11.46),(7.06,-10.81),(7.16,-11.46),(7.26,-10.6),(7.36,-11.35),(7.46,-10.81),(7.57,-11.56),
(7.67,-11.08),(7.77,-10.6),(7.84,-11.35),(7.9,-10.92),(7.97,-10.27),(7.95,-11.62),(7.8,-9.84),(7.72,-9.41)]

# ---------------- assemble series ----------------
up_points = (up_start + up_top_arc + up_arc2 + up_mass + up_lower_edge + up_band + up_fill
             + [(sx, sy) for sx, ys in up_spikes for sy in ys] + up_in_down_band)
down_points = (down_band + down_fill + down_outliers1 + down_outliers2 + down_upper_strand + down_right_upper
               + down_right_mid1 + down_right_mid2 + down_right_low1 + down_right_low2 + down_right_scatter)
x_up = [pt[0] for pt in up_points]
y_up = [pt[1] for pt in up_points]
x_down = [pt[0] for pt in down_points]
y_down = [pt[1] for pt in down_points]

# ---------------- figure ----------------
FONT = "Liberation Sans"
INK = "#262626"
X_VIEW_END = 14.79

p = figure(frame_width=2595, frame_height=1062,
           x_range=Range1d(x_ticks[0], X_VIEW_END), y_range=Range1d(y_ticks[0], y_ticks[-1]),
           output_backend="svg", toolbar_location=None,
           min_border_left=305, min_border_top=102, min_border_right=100, min_border_bottom=10,
           background_fill_color="white", border_fill_color="white")
p.outline_line_color = None
p.xgrid.visible = False
p.ygrid.visible = False

# grid lines limited to the axes box
GRID = "#dfdfdf"
p.segment(x0=x_ticks, y0=[y_ticks[0]] * len(x_ticks), x1=x_ticks, y1=[y_ticks[-1]] * len(x_ticks),
          line_color=GRID, line_width=1.5)
p.segment(x0=[x_ticks[0]] * len(y_ticks), y0=y_ticks, x1=[x_ticks[-1]] * len(y_ticks), y1=y_ticks,
          line_color=GRID, line_width=1.5)

r_up = p.scatter(x_up, y_up, marker="circle", size=7.5, fill_color="#ff0000", line_color=None)
r_down = p.scatter(x_down, y_down, marker="circle", size=7.5, fill_color="#0000ff", line_color=None)

# axes
plain = CustomJSTickFormatter(code="return String(tick);")
for ax in (p.xaxis[0], p.yaxis[0]):
    ax.formatter = plain
    ax.axis_line_color = INK
    ax.axis_line_width = 1.3
    ax.major_tick_line_color = INK
    ax.major_tick_line_width = 1.3
    ax.major_tick_in = 20
    ax.major_tick_out = 0
    ax.minor_tick_line_color = None
    ax.major_label_text_font = FONT
    ax.major_label_text_font_size = "61px"
    ax.major_label_text_color = INK
    ax.axis_label_text_font = FONT
    ax.axis_label_text_font_size = "69px"
    ax.axis_label_text_font_style = "normal"
    ax.axis_label_text_color = INK

p.xaxis.ticker = FixedTicker(ticks=x_ticks)
p.xaxis.bounds = (x_ticks[0], x_ticks[-1])
p.xaxis.axis_label = X_LABEL
p.xaxis.major_label_standoff = 31
p.xaxis.axis_label_standoff = 16

p.yaxis.ticker = FixedTicker(ticks=y_ticks)
p.yaxis.bounds = (y_ticks[0], y_ticks[-1])
p.yaxis.axis_label = Y_LABEL
p.yaxis.major_label_standoff = 19
p.yaxis.axis_label_standoff = 14

# title
p.title.text = TITLE
p.title.text_font = FONT
p.title.text_font_size = "69px"
p.title.text_font_style = "bold"
p.title.text_color = "black"
p.title.align = "left"
p.title.offset = 209
p.title.standoff = 10

# hysteresis marker
p.segment(x0=[hyst_x, hyst_x], y0=[hyst_upper, hyst_lower], x1=[dotted_end, dotted_end], y1=[hyst_upper, hyst_lower],
          line_color="black", line_width=7.5, line_dash="8 8")
p.segment(x0=[hyst_x], y0=[bar_top], x1=[hyst_x], y1=[bar_bottom], line_color="black", line_width=7.5)
p.add_layout(Arrow(x_start=hyst_x, y_start=bar_top, x_end=hyst_x, y_end=hyst_upper, line_alpha=0,
                   end=OpenHead(size=28, line_width=2.5, line_color="black")))
p.add_layout(Arrow(x_start=hyst_x, y_start=bar_bottom, x_end=hyst_x, y_end=hyst_lower, line_alpha=0,
                   end=OpenHead(size=28, line_width=2.5, line_color="black")))
for txt, ty in zip(annotation_lines, note_y):
    p.add_layout(Label(x=note_x, y=ty, text=txt, text_font=FONT, text_font_size="63px",
                       text_color="black", text_baseline="alphabetic"))

# legend
legend = Legend(items=[LegendItem(label=legend_labels[0], renderers=[r_up]),
                       LegendItem(label=legend_labels[1], renderers=[r_down])],
                location=(1862, 913), orientation="vertical",
                label_text_font="Liberation Serif", label_text_font_size="62px", label_text_color="black",
                padding=3, spacing=0, margin=0, glyph_width=70, glyph_height=70, label_height=70,
                label_standoff=6, border_line_color=INK, border_line_width=1.5,
                background_fill_color="white", background_fill_alpha=1.0)
p.add_layout(legend)

open("out.html", "w").write(file_html(p, INLINE))
